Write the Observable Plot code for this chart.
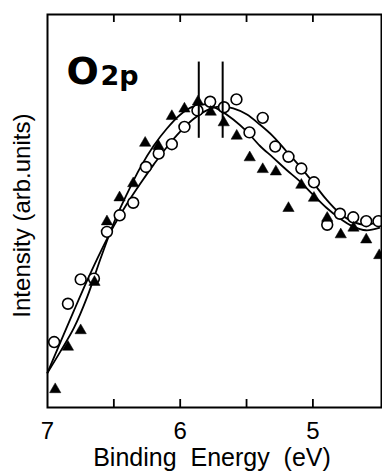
<!DOCTYPE html>
<html><head><meta charset="utf-8">
<script src="https://cdn.jsdelivr.net/npm/d3@7"></script>
<script src="https://cdn.jsdelivr.net/npm/@observablehq/plot@0.6"></script>
<style>html,body{margin:0;padding:0;background:#fff}#chart svg{display:block}</style>
</head><body><div id="chart"></div>
<script>
// Open circles (binding energy in eV, intensity in arbitrary units)
const circleEnergy = [6.95, 6.846, 6.75, 6.65, 6.552, 6.456, 6.354, 6.258, 6.162, 6.063, 5.968, 5.870, 5.774, 5.670, 5.576, 5.478, 5.378, 5.284, 5.184, 5.087, 4.992, 4.892, 4.796, 4.696, 4.598, 4.506];
const circleIntensity = [16.65, 26.4, 32.6, 32.8, 44.7, 48.9, 52.1, 61.2, 64.6, 67.0, 71.4, 75.6, 77.8, 76.4, 78.4, 70.0, 73.7, 66.4, 63.8, 60.8, 57.3, 46.5, 49.3, 48.4, 47.4, 47.4];
// Filled triangles
const triEnergy = [6.942, 6.846, 6.75, 6.646, 6.552, 6.457, 6.354, 6.264, 6.164, 6.063, 5.968, 5.866, 5.770, 5.672, 5.574, 5.476, 5.378, 5.279, 5.184, 5.087, 4.992, 4.892, 4.790, 4.694, 4.598, 4.50];
const triIntensity = [4.6, 15.4, 19.6, 31.9, 47.3, 53.4, 57.0, 67.3, 66.5, 74.1, 76.0, 77.8, 75.2, 72.5, 69.1, 63.6, 60.6, 60.0, 50.7, 56.6, 53.3, 48.2, 44.0, 45.7, 42.7, 38.7];
// Smooth fitted curves
const fitEnergy = [7.0, 6.9, 6.8, 6.7, 6.6, 6.5, 6.4, 6.3, 6.2, 6.1, 6.0, 5.9, 5.8, 5.7, 5.6, 5.5, 5.4, 5.3, 5.2, 5.1, 5.0, 4.9, 4.8, 4.7, 4.6, 4.5];
const circleFit = [8.85, 16.8, 24.7, 32.4, 39.6, 46.2, 51.9, 57.0, 61.8, 66.3, 70.2, 73.4, 75.6, 76.6, 76.1, 74.6, 72.0, 69.0, 65.2, 61.4, 57.3, 53.0, 49.5, 47.3, 46.5, 47.4];
const triFit = [8.85, 14.4, 20.3, 28.2, 37.9, 47.0, 54.4, 61.1, 66.6, 71.0, 74.5, 76.6, 77.1, 75.6, 73.3, 70.3, 66.6, 63.6, 60.5, 57.6, 54.2, 50.9, 48.2, 46.1, 45.1, 45.7];
// Peak position markers
const peakEnergy = [5.86, 5.68];
const peakMarkTop = 87.9;
const peakMarkBottom = 68.5;
// Axis ticks and labels
const xTickLabels = [7, 6, 5];
const xMinorTicks = [6.5, 6, 5.5, 5];
const xLabel = "Binding\u00a0\u00a0Energy\u00a0\u00a0(eV)";
const yLabel = "Intensity (arb.units)";
const panelMain = "O";
const panelSub = "2p";

const circles = circleEnergy.map((e, i) => ({e, v: circleIntensity[i]}));
const tris = triEnergy.map((e, i) => ({e, v: triIntensity[i]}));
const fitC = fitEnergy.map((e, i) => ({e, v: circleFit[i]}));
const fitT = fitEnergy.map((e, i) => ({e, v: triFit[i]}));

const W = 382, H = 472, mL = 47, mR = 1, mT = 14, mB = 65;
const frameH = H - mT - mB;
const tickLen = 8;

const chart = Plot.plot({
  width: W, height: H,
  marginLeft: mL, marginRight: mR, marginTop: mT, marginBottom: mB,
  style: {fontFamily: "'Liberation Sans', Arial, Helvetica, sans-serif", color: "black", background: "white"},
  x: {domain: [7, 4.483], axis: null},
  y: {domain: [0, 100], axis: null},
  marks: [
    Plot.line(fitC, {x: "e", y: "v", curve: "catmull-rom", stroke: "black", strokeWidth: 1.8}),
    Plot.line(fitT, {x: "e", y: "v", curve: "catmull-rom", stroke: "black", strokeWidth: 1.8}),
    Plot.dot(circles, {x: "e", y: "v", r: 5.4, fill: "white", stroke: "black", strokeWidth: 1.6}),
    Plot.dot(tris, {x: "e", y: "v", symbol: "triangle", r: 4.2, fill: "black", stroke: "black", strokeWidth: 0.5}),
    Plot.ruleX(peakEnergy, {x: d => d, y1: peakMarkBottom, y2: peakMarkTop, stroke: "black", strokeWidth: 2}),
    Plot.tickX(xMinorTicks, {x: d => d, insetTop: frameH - tickLen, stroke: "black", strokeWidth: 1.8}),
    Plot.tickX(xMinorTicks, {x: d => d, insetBottom: frameH - tickLen, stroke: "black", strokeWidth: 1.8}),
    Plot.frame({stroke: "black", strokeWidth: 2}),
    Plot.axisX({ticks: xTickLabels, anchor: "bottom", tickSize: 0, tickPadding: 14, fontSize: 24, tickFormat: d => String(d), label: null}),
    Plot.text([xLabel], {frameAnchor: "bottom", dx: -2.5, dy: 50.8, fontSize: 25, lineAnchor: "middle", textAnchor: "middle", fill: "black"}),
    Plot.text([yLabel], {frameAnchor: "left", rotate: -90, dx: -25.3, dy: 4.6, fontSize: 24, lineAnchor: "middle", textAnchor: "middle", fill: "black"}),
    Plot.text([panelMain], {frameAnchor: "top-left", dx: 19, dy: 57.8, fontSize: 38, fontWeight: "bold", fontFamily: "'DejaVu Sans', sans-serif", textAnchor: "start", lineAnchor: "middle", fill: "black"}),
    Plot.text([panelSub], {frameAnchor: "top-left", dx: 53, dy: 61.4, fontSize: 27, fontWeight: "bold", fontFamily: "'DejaVu Sans', sans-serif", textAnchor: "start", lineAnchor: "middle", fill: "black"})
  ]
});
document.getElementById("chart").appendChild(chart);
</script>
</body></html>
